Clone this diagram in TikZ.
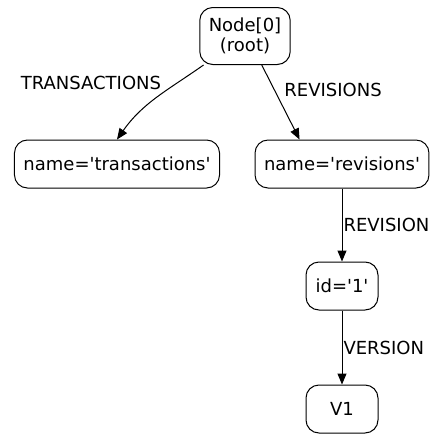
\documentclass[tikz,border=0pt]{standalone}
\usepackage{fontspec}
\setmainfont{DejaVu Sans}
\usepackage{xcolor}
\definecolor{ink}{HTML}{000000}
\usetikzlibrary{positioning,arrows.meta}
\newcommand{\sq}{\textquotesingle}

\begin{document}
\begin{tikzpicture}[
  x=1pt, y=1pt,
  font=\fontsize{18}{20.5}\selectfont,
  rec/.style={draw=ink, line width=1pt, rounded corners=13pt, align=center,
              inner xsep=9pt, inner ysep=4pt, minimum width=72pt, minimum height=48pt},
  link/.style={-{Triangle[length=11pt, width=9pt]}, draw=ink, line width=1pt},
  lbl/.style={inner sep=1pt, text=ink}
]
  \useasboundingbox (0,0) rectangle (432,-434);

  \node[rec, minimum height=57pt] (root) at (245,-36) {Node[0]\\(root)};
  \node[rec] (trans) at (117,-164) {name=\sq transactions\sq};
  \node[rec] (revs)  at (342,-164) {name=\sq revisions\sq};
  \node[rec] (rev1)  at (342,-286) {id=\sq 1\sq};
  \node[rec] (ver1)  at (342,-409) {V1};

  \draw[link] (root.215) to[out=215, in=55]
        node[lbl, pos=0.3, anchor=south east, xshift=-11pt, yshift=-6pt] {TRANSACTIONS} (trans.north);
  \draw[link] (root.-60) -- node[lbl, pos=0.4, anchor=south west, xshift=6pt, yshift=-3pt] {REVISIONS} (revs.150);
  \draw[link] (revs) -- node[lbl, anchor=west] {REVISION} (rev1);
  \draw[link] (rev1) -- node[lbl, anchor=west] {VERSION} (ver1);
\end{tikzpicture}
\end{document}
